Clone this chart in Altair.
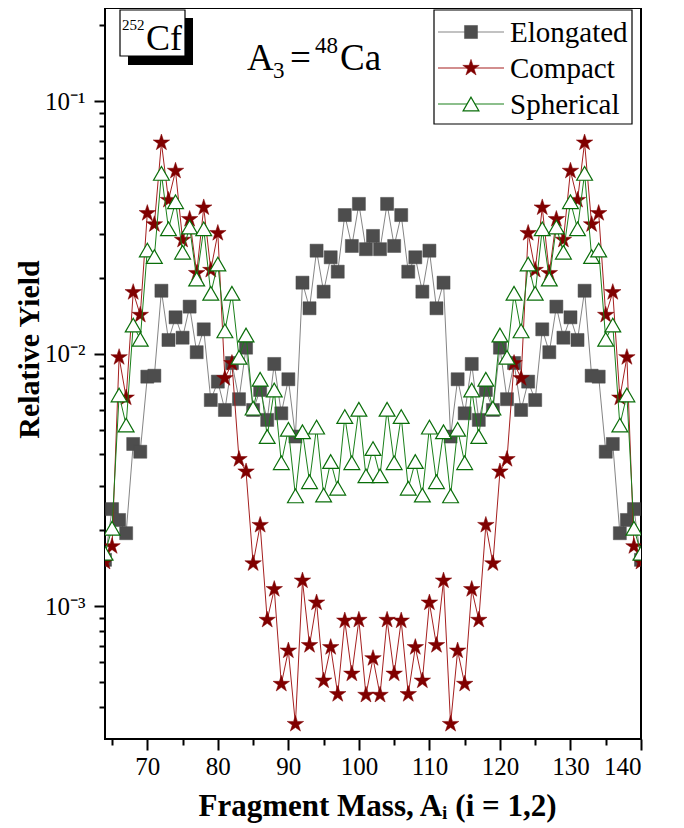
import altair as alt
import pandas as pd

FONT = "Liberation Serif"

mass = list(range(64, 141))

elongated = [
    0.00153, 0.00243, 0.00220, 0.00195, 0.00440, 0.00410, 0.00813, 0.00820, 0.0178, 0.01136,
    0.01397, 0.0116, 0.0154, 0.01016, 0.01252, 0.00657, 0.00777, 0.00600, 0.00921, 0.00662,
    0.01059, 0.00600, 0.00720, 0.00548, 0.00913, 0.00582, 0.00794, 0.00471, 0.01916, 0.01517,
    0.02565, 0.01765, 0.02415, 0.02118, 0.0355, 0.02678, 0.0393, 0.0260, 0.02934,
    0.0260, 0.0393, 0.02678, 0.0355, 0.02118, 0.02415, 0.01765, 0.02565, 0.01517, 0.01916,
    0.00471, 0.00794, 0.00582, 0.00913, 0.00548, 0.00720, 0.00600, 0.01059, 0.00662, 0.00921,
    0.00600, 0.00777, 0.00657, 0.01252, 0.01016, 0.0154, 0.0116, 0.01397, 0.01136, 0.0178,
    0.00820, 0.00813, 0.00410, 0.00440, 0.00195, 0.00220, 0.00243, 0.00153,
]

compact = [
    0.00150, 0.00173, 0.00970, 0.00671, 0.01755, 0.01427, 0.0361, 0.0326, 0.0687, 0.0407,
    0.0531, 0.0283, 0.0342, 0.0209, 0.0380, 0.0215, 0.0301, 0.00801, 0.00919, 0.00383,
    0.00342, 0.00148, 0.00210, 0.000884, 0.00117, 0.000493, 0.000668, 0.000342, 0.001265, 0.000702,
    0.001035, 0.000508, 0.000689, 0.000449, 0.000878, 0.000541, 0.000884, 0.000446, 0.000623,
    0.000446, 0.000884, 0.000541, 0.000878, 0.000449, 0.000689, 0.000508, 0.001035, 0.000702, 0.001265,
    0.000342, 0.000668, 0.000493, 0.00117, 0.000884, 0.00210, 0.00148, 0.00342, 0.00383, 0.00919,
    0.00801, 0.0301, 0.0215, 0.0380, 0.0209, 0.0342, 0.0283, 0.0531, 0.0407, 0.0687,
    0.0326, 0.0361, 0.01427, 0.01755, 0.00671, 0.00970, 0.00173, 0.00150,
]

spherical = [
    0.001624, 0.00204, 0.00688, 0.00523, 0.01302, 0.01143, 0.0258, 0.0243, 0.0519, 0.0313,
    0.0401, 0.0253, 0.0318, 0.0198, 0.0313, 0.0174, 0.0227, 0.01234, 0.0174, 0.0097,
    0.01189, 0.0061, 0.00794, 0.00471, 0.0072, 0.00371, 0.00503, 0.00274, 0.00492, 0.00312,
    0.00513, 0.00276, 0.00375, 0.00294, 0.00565, 0.00371, 0.00604, 0.00329, 0.00422,
    0.00329, 0.00604, 0.00371, 0.00565, 0.00294, 0.00375, 0.00276, 0.00513, 0.00312, 0.00492,
    0.00274, 0.00503, 0.00371, 0.0072, 0.00471, 0.00794, 0.0061, 0.01189, 0.0097, 0.0174,
    0.01234, 0.0227, 0.0174, 0.0313, 0.0198, 0.0318, 0.0253, 0.0401, 0.0313, 0.0519,
    0.0243, 0.0258, 0.01143, 0.01302, 0.00523, 0.00688, 0.00204, 0.001624,
]

series_names = ["Elongated", "Compact", "Spherical"]
x_major = [70, 80, 90, 100, 110, 120, 130, 140]
x_minor = [65, 75, 85, 95, 105, 115, 125, 135]
y_major = [0.001, 0.01, 0.1]
y_minor = [0.0004, 0.0005, 0.0006, 0.0007, 0.0008, 0.0009,
           0.002, 0.003, 0.004, 0.005, 0.006, 0.007, 0.008, 0.009,
           0.02, 0.03, 0.04, 0.05, 0.06, 0.07, 0.08, 0.09, 0.2]

df = pd.DataFrame({"A": mass, "Elongated": elongated,
                   "Compact": compact, "Spherical": spherical})
long = df.melt("A", var_name="series", value_name="val")

STAR = ("M0,-1L0.2245,-0.309L0.9511,-0.309L0.3633,0.118L0.5878,0.809L0,0.382"
        "L-0.5878,0.809L-0.3633,0.118L-0.9511,-0.309L-0.2245,-0.309Z")

styles = {
    "Elongated": dict(line="#858585", shape="square", fill="#4d4d4d", stroke="#4d4d4d", size=170, sw=0.5),
    "Compact": dict(line="#a51f1f", shape=STAR, fill="#800000", stroke="#800000", size=300, sw=0.5),
    "Spherical": dict(line="#1a801a", shape="triangle-up", fill="white", stroke="#0a6e0a", size=250, sw=1.2),
}

xscale = alt.Scale(domain=[64, 140], nice=False, zero=False)
yscale = alt.Scale(type="log", domain=[0.0002985, 0.2346], nice=False)

x_axis_major = alt.Axis(
    orient="bottom", values=x_major, format="d", tickSize=11, tickWidth=2,
    tickColor="black", domain=False, grid=False, labelFont=FONT, labelFontSize=25,
    labelColor="black", labelPadding=4, title="Fragment Mass, Aᵢ (i = 1,2)",
    titleFont=FONT, titleFontSize=31, titleFontWeight="bold", titleColor="black",
    titleX=272, titleY=76, titleBaseline="alphabetic", titleAlign="center",
)
y_axis_major = alt.Axis(
    orient="left", values=y_major, tickSize=11, tickWidth=2, tickColor="black",
    domain=False, grid=False, labelFont=FONT, labelFontSize=25, labelColor="black",
    labelPadding=9,
    labelExpr="datum.value > 0.05 ? '10⁻¹' : (datum.value > 0.005 ? '10⁻²' : '10⁻³')",
    title="Relative Yield", titleFont=FONT, titleFontSize=30, titleFontWeight="bold",
    titleColor="black", titleAngle=270, titleX=-67, titleY=341,
    titleBaseline="alphabetic", titleAlign="center",
)
x_axis_minor = alt.Axis(orient="bottom", values=x_minor, tickSize=6, tickWidth=2,
                        tickColor="black", labels=False, domain=False, grid=False, title="")
y_axis_minor = alt.Axis(orient="left", values=y_minor, tickSize=6, tickWidth=2,
                        tickColor="black", labels=False, domain=False, grid=False, title="")

layers = []
for i, name in enumerate(series_names):
    st = styles[name]
    base = alt.Chart(long).transform_filter(alt.datum.series == name)
    if i == 0:
        lx, ly = x_axis_major, y_axis_major
        px, py = x_axis_minor, y_axis_minor
    else:
        lx = ly = px = py = None

    def enc(ax, ay):
        xx = alt.X("A:Q", scale=xscale, axis=ax) if ax is not None else alt.X("A:Q", scale=xscale, axis=None)
        yy = alt.Y("val:Q", scale=yscale, axis=ay) if ay is not None else alt.Y("val:Q", scale=yscale, axis=None)
        return xx, yy

    xx, yy = enc(lx, ly)
    layers.append(base.mark_line(color=st["line"], strokeWidth=1, clip=True).encode(x=xx, y=yy))
    xx, yy = enc(px, py)
    layers.append(base.mark_point(shape=st["shape"], size=st["size"], filled=True,
                                  fill=st["fill"], stroke=st["stroke"], strokeWidth=st["sw"],
                                  opacity=1, clip=True).encode(x=xx, y=yy))

one = pd.DataFrame({"k": [0]})

# legend box
layers.append(alt.Chart(one).mark_rect(fill="white", stroke="black", strokeWidth=1.2).encode(
    x=alt.value(329), x2=alt.value(527), y=alt.value(2), y2=alt.value(116)))
legend_rows = [24, 60, 96]
for name, yy in zip(series_names, legend_rows):
    st = styles[name]
    layers.append(alt.Chart(one).mark_rule(color=st["line"], strokeWidth=1.2).encode(
        x=alt.value(333), x2=alt.value(399), y=alt.value(yy)))
    layers.append(alt.Chart(one).mark_point(shape=st["shape"], size=st["size"], filled=True,
                                            fill=st["fill"], stroke=st["stroke"],
                                            strokeWidth=st["sw"], opacity=1).encode(
        x=alt.value(366), y=alt.value(yy)))
    layers.append(alt.Chart(one).mark_text(text=name, font=FONT, fontSize=29, align="left",
                                           baseline="middle", color="black").encode(
        x=alt.value(405), y=alt.value(yy + 1)))

# 252Cf box with shadow
layers.append(alt.Chart(one).mark_rect(fill="black").encode(
    x=alt.value(23), x2=alt.value(88), y=alt.value(10), y2=alt.value(57)))
layers.append(alt.Chart(one).mark_rect(fill="white", stroke="black", strokeWidth=1.2).encode(
    x=alt.value(15), x2=alt.value(80), y=alt.value(2), y2=alt.value(48)))
layers.append(alt.Chart(one).mark_text(text="252", font=FONT, fontSize=15, align="left",
                                       baseline="alphabetic", color="black").encode(
    x=alt.value(17), y=alt.value(22)))
layers.append(alt.Chart(one).mark_text(text="Cf", font=FONT, fontSize=36, align="left",
                                       baseline="alphabetic", color="black").encode(
    x=alt.value(41), y=alt.value(42)))

# A3 = 48Ca
ann = [("A", 37, 142, 62), ("3", 23, 168, 70), ("=", 37, 185, 62),
       ("48", 23, 210, 45), ("Ca", 37, 235, 62)]
for txt, fs, xx, yy in ann:
    layers.append(alt.Chart(one).mark_text(text=txt, font=FONT, fontSize=fs, align="left",
                                           baseline="alphabetic", color="black").encode(
        x=alt.value(xx), y=alt.value(yy)))

chart = alt.layer(*layers).resolve_axis(x="independent", y="independent").properties(
    width=536, height=731,
    padding={"left": 97, "top": 0, "right": 35, "bottom": 89},
    autosize=alt.AutoSizeParams(type="none"),
    background="white",
).configure_view(stroke="black", strokeWidth=2)

chart.save("out.html", embed_options={"renderer": "svg", "actions": False})
